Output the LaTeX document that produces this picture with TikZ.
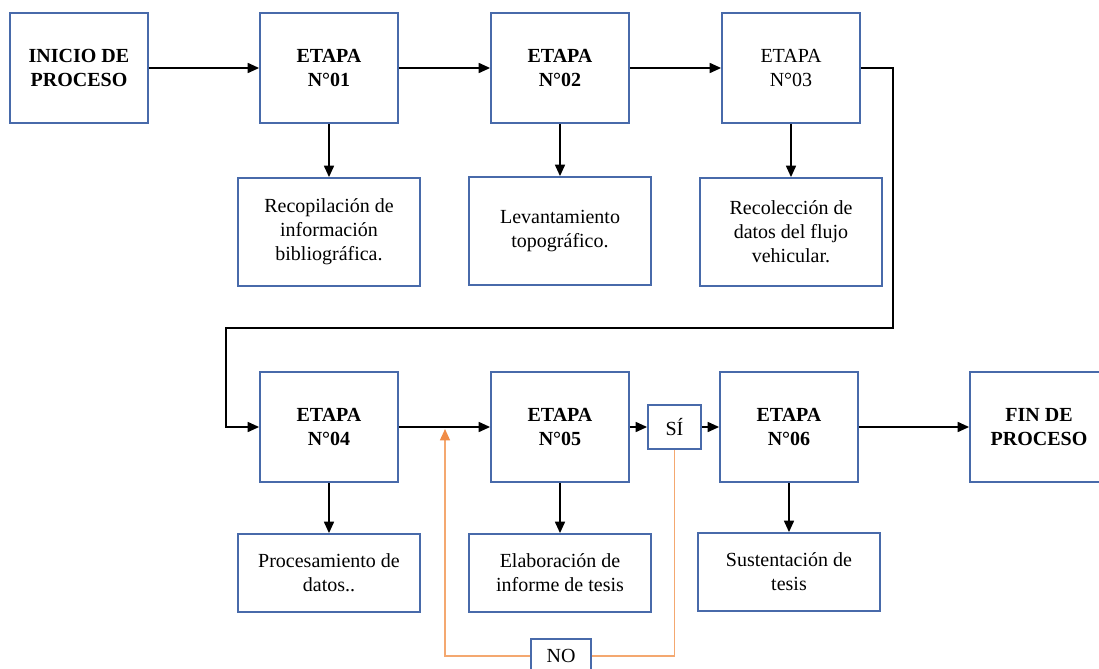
\documentclass[tikz,border=0pt]{standalone}
\usepackage{fontspec}
\setmainfont{Liberation Serif}
\usetikzlibrary{arrows.meta}
\definecolor{boxblue}{RGB}{72,106,170}
\definecolor{loopor}{RGB}{244,168,112}
\definecolor{tipor}{RGB}{240,140,70}

\begin{document}
\begin{tikzpicture}[x=0.75pt, y=-0.75pt,
    stage_node/.style={rectangle,draw=boxblue,line width=1.4pt,minimum width=103.5pt,minimum height=82.5pt,align=center,font=\fontsize{15}{18}\selectfont\bfseries,inner sep=2pt},
    task_node/.style={rectangle,draw=boxblue,line width=1.4pt,minimum width=136.5pt,minimum height=81pt,align=center,font=\fontsize{15}{18}\selectfont,inner sep=2pt},
    ans_node/.style={rectangle,draw=boxblue,line width=1.4pt,minimum height=33pt,align=center,font=\fontsize{15}{18}\selectfont,inner sep=2pt},
    flow/.style={line width=1.1pt,-{Triangle[length=8.5pt,width=7.5pt]}}]
    \useasboundingbox (0,0) rectangle (1099,668);
    % upper row
    \node[stage_node] (ini) at (79, 68) {INICIO DE\\PROCESO};
    \node[stage_node] (e1) at (329, 68) {ETAPA\\N°01};
    \node[stage_node] (e2) at (560, 68) {ETAPA\\N°02};
    \node[stage_node, font=\fontsize{15}{18}\selectfont] (e3) at (791, 68) {ETAPA\\N°03};
    \node[task_node] (t1) at (329, 232) {Recopilación de\\información\\bibliográfica.};
    \node[task_node] (t2) at (560, 231) {Levantamiento\\topográfico.};
    \node[task_node] (t3) at (791, 232) {Recolección de\\datos del flujo\\vehicular.};
    % lower row
    \node[stage_node] (e4) at (329, 427) {ETAPA\\N°04};
    \node[stage_node] (e5) at (560, 427) {ETAPA\\N°05};
    \node[ans_node, minimum width=39.75pt] (si) at (674.5, 427) {SÍ};
    \node[stage_node] (e6) at (789, 427) {ETAPA\\N°06};
    \node[stage_node] (fin) at (1039, 427) {FIN DE\\PROCESO};
    \node[task_node, minimum height=58.5pt] (t4) at (329, 573) {Procesamiento de\\datos..};
    \node[task_node, minimum height=58.5pt] (t5) at (560, 573) {Elaboración de\\informe de tesis};
    \node[task_node, minimum height=58.5pt] (t6) at (789, 572) {Sustentación de\\tesis};
    \node[ans_node, minimum width=45pt, minimum height=25.5pt] (no) at (561, 656) {NO};
    \coordinate (c1) at (893, 328);
    \coordinate (c2) at (226, 328);
    \coordinate (c3) at (445, 427);
    \draw[flow] (ini) -- (e1);
    \draw[flow] (e1) -- (e2);
    \draw[flow] (e2) -- (e3);
    \draw[flow] (e3.east) -| (c1) -- (c2) |- (e4.west);
    \draw[flow] (e4) -- (e5);
    \draw[flow] (e5) -- (si);
    \draw[flow] (si) -- (e6);
    \draw[flow] (e6) -- (fin);
    \draw[flow] (e1) -- (t1);
    \draw[flow] (e2) -- (t2);
    \draw[flow] (e3) -- (t3);
    \draw[flow] (e4) -- (t4);
    \draw[flow] (e5) -- (t5);
    \draw[flow] (e6) -- (t6);
    \draw[loopor, line width=1pt] (si.south) |- (no.east);
    \draw[loopor, line width=1pt, -{Triangle[length=8.5pt,width=7.5pt,color=tipor]}] (no.west) -| ([yshift=-1.5pt]c3);
\end{tikzpicture}
\end{document}
